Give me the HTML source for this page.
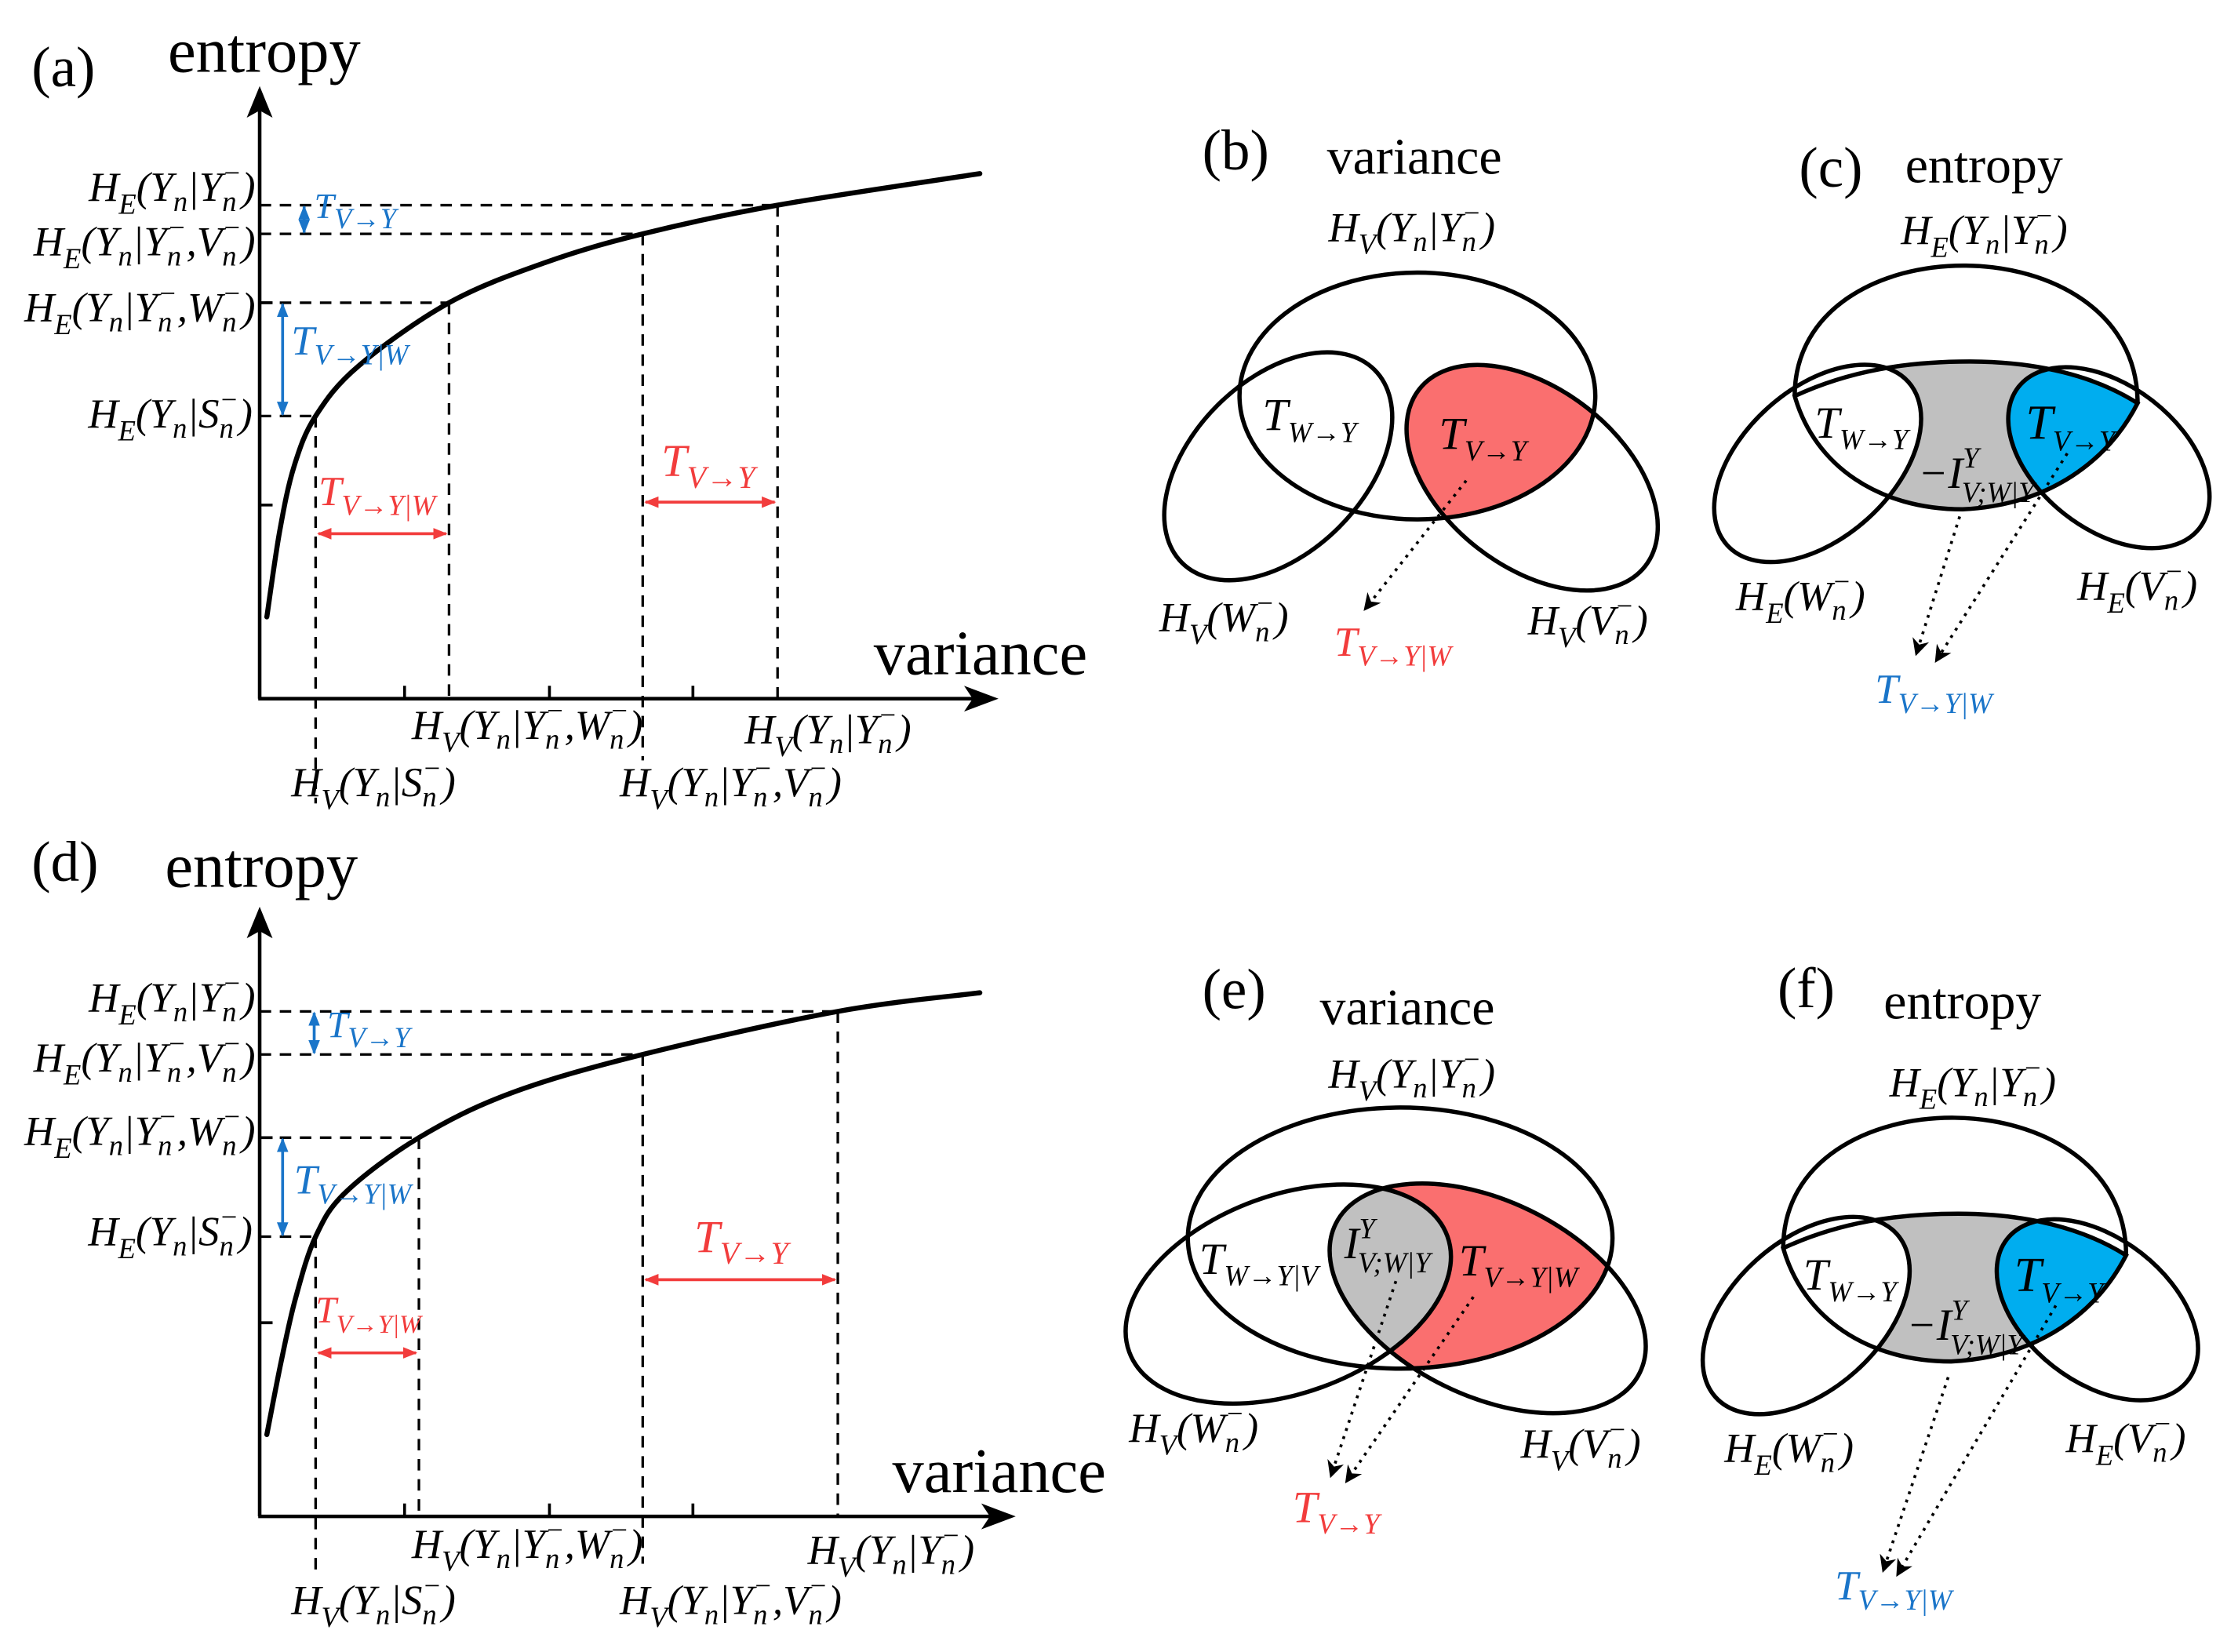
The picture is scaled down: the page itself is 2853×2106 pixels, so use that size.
<!DOCTYPE html>
<html><head><meta charset="utf-8"><style>
html,body{margin:0;padding:0;background:#fff}
svg{display:block}
.t{font-family:"Liberation Serif",serif;font-style:italic;font-size:29px;fill:#000}
.sb{font-size:20px}
.w{font-family:"Liberation Serif",serif;font-size:44px;fill:#000}
.pl{font-family:"Liberation Serif",serif;font-size:40px;fill:#000}
.blue{fill:#1a75c9}.red{fill:#f23c3c}
.el{fill:none;stroke:#000;stroke-width:3}
</style></head><body>
<svg id="fig" width="2853" height="2106" viewBox="0 0 1560 1151.5" xmlns="http://www.w3.org/2000/svg">
<defs>
<marker id="ab" viewBox="0 0 10 10" refX="9" refY="5" markerWidth="5" markerHeight="5" orient="auto-start-reverse"><path d="M0,1L10,5L0,9z" fill="#1a75c9"/></marker>
<marker id="ar" viewBox="0 0 10 10" refX="9" refY="5" markerWidth="5" markerHeight="5" orient="auto-start-reverse"><path d="M0,1L10,5L0,9z" fill="#f23c3c"/></marker>
<marker id="ad" viewBox="0 0 10 10" refX="8" refY="5" markerWidth="6" markerHeight="6" orient="auto"><path d="M0,0L10,5L0,10L3,5z" fill="#000"/></marker>
<clipPath id="bTop"><ellipse cx="988" cy="276" rx="124" ry="86"/></clipPath>
<clipPath id="eTop"><ellipse cx="976" cy="863" rx="148" ry="91"/></clipPath>
<clipPath id="eLeft"><path d="M1008.9,861.6 A118,69 -20 1 0 787.1,942.4 A118,69 -20 1 0 1008.9,861.6 Z"/></clipPath>
<clipPath id="cMid"><path d="M1251,276 C1290,258 1330,252 1373,252 C1420,252 1460,262 1490,281 C1470,320 1430,352 1368,355 C1310,355 1265,325 1251,276 Z"/></clipPath>
</defs>

<text class="pl" x="22" y="60">(a)</text>
<text class="w" x="117" y="50">entropy</text>
<text class="w" x="609" y="470">variance</text>
<text class="pl" x="22" y="614">(d)</text>
<text class="w" x="115" y="618">entropy</text>
<text class="w" x="622" y="1040">variance</text>

<g id="pa"></g>
<g id="pd"></g>

<text class="t" x="178" y="140" text-anchor="end">H<tspan class="sb" dy="9">E</tspan><tspan dy="-9">(Y</tspan><tspan class="sb" dy="7">n</tspan><tspan dy="-7">|Y</tspan><tspan class="sb" dy="7">n</tspan><tspan class="sb" dx="-10" dy="-20">−</tspan><tspan dy="13">)</tspan></text>
<text class="t" x="178" y="178" text-anchor="end">H<tspan class="sb" dy="9">E</tspan><tspan dy="-9">(Y</tspan><tspan class="sb" dy="7">n</tspan><tspan dy="-7">|Y</tspan><tspan class="sb" dy="7">n</tspan><tspan class="sb" dx="-10" dy="-20">−</tspan><tspan dy="13">,V</tspan><tspan class="sb" dy="7">n</tspan><tspan class="sb" dx="-10" dy="-20">−</tspan><tspan dy="13">)</tspan></text>
<text class="t" x="178" y="224" text-anchor="end">H<tspan class="sb" dy="9">E</tspan><tspan dy="-9">(Y</tspan><tspan class="sb" dy="7">n</tspan><tspan dy="-7">|Y</tspan><tspan class="sb" dy="7">n</tspan><tspan class="sb" dx="-10" dy="-20">−</tspan><tspan dy="13">,W</tspan><tspan class="sb" dy="7">n</tspan><tspan class="sb" dx="-10" dy="-20">−</tspan><tspan dy="13">)</tspan></text>
<text class="t" x="176" y="298" text-anchor="end">H<tspan class="sb" dy="9">E</tspan><tspan dy="-9">(Y</tspan><tspan class="sb" dy="7">n</tspan><tspan dy="-7">|S</tspan><tspan class="sb" dy="7">n</tspan><tspan class="sb" dx="-10" dy="-20">−</tspan><tspan dy="13">)</tspan></text>
<text class="t" x="287" y="515">H<tspan class="sb" dy="9">V</tspan><tspan dy="-9">(Y</tspan><tspan class="sb" dy="7">n</tspan><tspan dy="-7">|Y</tspan><tspan class="sb" dy="7">n</tspan><tspan class="sb" dx="-10" dy="-20">−</tspan><tspan dy="13">,W</tspan><tspan class="sb" dy="7">n</tspan><tspan class="sb" dx="-10" dy="-20">−</tspan><tspan dy="13">)</tspan></text>
<text class="t" x="203" y="555">H<tspan class="sb" dy="9">V</tspan><tspan dy="-9">(Y</tspan><tspan class="sb" dy="7">n</tspan><tspan dy="-7">|S</tspan><tspan class="sb" dy="7">n</tspan><tspan class="sb" dx="-10" dy="-20">−</tspan><tspan dy="13">)</tspan></text>
<text class="t" x="432" y="555">H<tspan class="sb" dy="9">V</tspan><tspan dy="-9">(Y</tspan><tspan class="sb" dy="7">n</tspan><tspan dy="-7">|Y</tspan><tspan class="sb" dy="7">n</tspan><tspan class="sb" dx="-10" dy="-20">−</tspan><tspan dy="13">,V</tspan><tspan class="sb" dy="7">n</tspan><tspan class="sb" dx="-10" dy="-20">−</tspan><tspan dy="13">)</tspan></text>
<text class="t" x="519" y="518">H<tspan class="sb" dy="9">V</tspan><tspan dy="-9">(Y</tspan><tspan class="sb" dy="7">n</tspan><tspan dy="-7">|Y</tspan><tspan class="sb" dy="7">n</tspan><tspan class="sb" dx="-10" dy="-20">−</tspan><tspan dy="13">)</tspan></text>
<text class="t blue" x="219" y="152" style="font-size:25px">T<tspan class="sb" dy="7">V→Y</tspan></text>
<text class="t blue" x="203" y="247">T<tspan class="sb" dy="7">V→Y|W</tspan></text>
<text class="t red" x="222" y="352">T<tspan class="sb" dy="7">V→Y|W</tspan></text>
<text class="t red" x="461" y="332" style="font-size:32px">T<tspan class="sb" dy="8" style="font-size:22px">V→Y</tspan></text>

<text class="t" x="178" y="705" text-anchor="end">H<tspan class="sb" dy="9">E</tspan><tspan dy="-9">(Y</tspan><tspan class="sb" dy="7">n</tspan><tspan dy="-7">|Y</tspan><tspan class="sb" dy="7">n</tspan><tspan class="sb" dx="-10" dy="-20">−</tspan><tspan dy="13">)</tspan></text>
<text class="t" x="178" y="747" text-anchor="end">H<tspan class="sb" dy="9">E</tspan><tspan dy="-9">(Y</tspan><tspan class="sb" dy="7">n</tspan><tspan dy="-7">|Y</tspan><tspan class="sb" dy="7">n</tspan><tspan class="sb" dx="-10" dy="-20">−</tspan><tspan dy="13">,V</tspan><tspan class="sb" dy="7">n</tspan><tspan class="sb" dx="-10" dy="-20">−</tspan><tspan dy="13">)</tspan></text>
<text class="t" x="178" y="798" text-anchor="end">H<tspan class="sb" dy="9">E</tspan><tspan dy="-9">(Y</tspan><tspan class="sb" dy="7">n</tspan><tspan dy="-7">|Y</tspan><tspan class="sb" dy="7">n</tspan><tspan class="sb" dx="-10" dy="-20">−</tspan><tspan dy="13">,W</tspan><tspan class="sb" dy="7">n</tspan><tspan class="sb" dx="-10" dy="-20">−</tspan><tspan dy="13">)</tspan></text>
<text class="t" x="176" y="868" text-anchor="end">H<tspan class="sb" dy="9">E</tspan><tspan dy="-9">(Y</tspan><tspan class="sb" dy="7">n</tspan><tspan dy="-7">|S</tspan><tspan class="sb" dy="7">n</tspan><tspan class="sb" dx="-10" dy="-20">−</tspan><tspan dy="13">)</tspan></text>
<text class="t" x="287" y="1086">H<tspan class="sb" dy="9">V</tspan><tspan dy="-9">(Y</tspan><tspan class="sb" dy="7">n</tspan><tspan dy="-7">|Y</tspan><tspan class="sb" dy="7">n</tspan><tspan class="sb" dx="-10" dy="-20">−</tspan><tspan dy="13">,W</tspan><tspan class="sb" dy="7">n</tspan><tspan class="sb" dx="-10" dy="-20">−</tspan><tspan dy="13">)</tspan></text>
<text class="t" x="203" y="1125">H<tspan class="sb" dy="9">V</tspan><tspan dy="-9">(Y</tspan><tspan class="sb" dy="7">n</tspan><tspan dy="-7">|S</tspan><tspan class="sb" dy="7">n</tspan><tspan class="sb" dx="-10" dy="-20">−</tspan><tspan dy="13">)</tspan></text>
<text class="t" x="432" y="1125">H<tspan class="sb" dy="9">V</tspan><tspan dy="-9">(Y</tspan><tspan class="sb" dy="7">n</tspan><tspan dy="-7">|Y</tspan><tspan class="sb" dy="7">n</tspan><tspan class="sb" dx="-10" dy="-20">−</tspan><tspan dy="13">,V</tspan><tspan class="sb" dy="7">n</tspan><tspan class="sb" dx="-10" dy="-20">−</tspan><tspan dy="13">)</tspan></text>
<text class="t" x="563" y="1090">H<tspan class="sb" dy="9">V</tspan><tspan dy="-9">(Y</tspan><tspan class="sb" dy="7">n</tspan><tspan dy="-7">|Y</tspan><tspan class="sb" dy="7">n</tspan><tspan class="sb" dx="-10" dy="-20">−</tspan><tspan dy="13">)</tspan></text>
<text class="t blue" x="228" y="723" style="font-size:26px">T<tspan class="sb" dy="7">V→Y</tspan></text>
<text class="t blue" x="205" y="832">T<tspan class="sb" dy="7">V→Y|W</tspan></text>
<text class="t red" x="220" y="922" style="font-size:26px">T<tspan class="sb" dy="7" style="font-size:18px">V→Y|W</tspan></text>
<text class="t red" x="484" y="873" style="font-size:32px">T<tspan class="sb" dy="8" style="font-size:22px">V→Y</tspan></text>

<!-- panel b -->
<g>
<text class="pl" x="838" y="118">(b)</text>
<text class="w" x="925" y="121" style="font-size:36px">variance</text>
<g clip-path="url(#bTop)"><ellipse cx="0" cy="0" rx="100" ry="62" transform="translate(1068,333) rotate(38)" fill="#fa6f6f"/></g>
<ellipse class="el" cx="988" cy="276" rx="124" ry="86"/>
<ellipse class="el" cx="0" cy="0" rx="95" ry="60" transform="translate(891,325) rotate(-45)"/>
<ellipse class="el" cx="0" cy="0" rx="100" ry="62" transform="translate(1068,333) rotate(38)"/>
<text class="t" x="926" y="168">H<tspan class="sb" dy="9">V</tspan><tspan dy="-9">(Y</tspan><tspan class="sb" dy="7">n</tspan><tspan dy="-7">|Y</tspan><tspan class="sb" dy="7">n</tspan><tspan class="sb" dx="-10" dy="-20">−</tspan><tspan dy="13">)</tspan></text>
<text class="t" x="880" y="300" style="font-size:32px">T<tspan class="sb" dy="8">W→Y</tspan></text>
<text class="t" x="1003" y="313" style="font-size:32px">T<tspan class="sb" dy="8">V→Y</tspan></text>
<text class="t" x="808" y="440">H<tspan class="sb" dy="9">V</tspan><tspan dy="-9">(W</tspan><tspan class="sb" dy="7">n</tspan><tspan class="sb" dx="-10" dy="-20">−</tspan><tspan dy="13">)</tspan></text>
<text class="t" x="1065" y="442">H<tspan class="sb" dy="9">V</tspan><tspan dy="-9">(V</tspan><tspan class="sb" dy="7">n</tspan><tspan class="sb" dx="-10" dy="-20">−</tspan><tspan dy="13">)</tspan></text>
<path d="M1022,335 L952,424" stroke="#000" stroke-width="2" stroke-dasharray="2 4" fill="none" marker-end="url(#ad)"/>
<text class="t red" x="930" y="457">T<tspan class="sb" dy="7">V→Y|W</tspan></text>
</g>

<!-- panel e -->
<g>
<text class="pl" x="838" y="703">(e)</text>
<text class="w" x="920" y="714" style="font-size:36px">variance</text>
<g clip-path="url(#eTop)"><ellipse cx="0" cy="0" rx="118" ry="68" transform="translate(1037,905) rotate(26)" fill="#fa6f6f"/></g>
<g clip-path="url(#eLeft)"><ellipse cx="0" cy="0" rx="118" ry="68" transform="translate(1037,905) rotate(26)" fill="#c0c0c0"/></g>
<ellipse class="el" cx="976" cy="863" rx="148" ry="91"/>
<ellipse class="el" cx="0" cy="0" rx="118" ry="69" transform="translate(898,902) rotate(-20)"/>
<ellipse class="el" cx="0" cy="0" rx="118" ry="68" transform="translate(1037,905) rotate(26)"/>
<text class="t" x="926" y="758">H<tspan class="sb" dy="9">V</tspan><tspan dy="-9">(Y</tspan><tspan class="sb" dy="7">n</tspan><tspan dy="-7">|Y</tspan><tspan class="sb" dy="7">n</tspan><tspan class="sb" dx="-10" dy="-20">−</tspan><tspan dy="13">)</tspan></text>
<text class="t" x="836" y="888" style="font-size:31px">T<tspan class="sb" dy="8">W→Y|V</tspan></text>
<text class="t" x="937" y="877" style="font-size:31px">I<tspan class="sb" dy="-14">Y</tspan><tspan class="sb" dx="-12" dy="24">V;W|Y</tspan></text>
<text class="t" x="1017" y="889" style="font-size:31px">T<tspan class="sb" dy="8">V→Y|W</tspan></text>
<text class="t" x="787" y="1005">H<tspan class="sb" dy="9">V</tspan><tspan dy="-9">(W</tspan><tspan class="sb" dy="7">n</tspan><tspan class="sb" dx="-10" dy="-20">−</tspan><tspan dy="13">)</tspan></text>
<text class="t" x="1060" y="1016">H<tspan class="sb" dy="9">V</tspan><tspan dy="-9">(V</tspan><tspan class="sb" dy="7">n</tspan><tspan class="sb" dx="-10" dy="-20">−</tspan><tspan dy="13">)</tspan></text>
<path d="M973,893 L928,1028" stroke="#000" stroke-width="2" stroke-dasharray="2 4" fill="none" marker-end="url(#ad)"/>
<path d="M1027,904 L939,1032" stroke="#000" stroke-width="2" stroke-dasharray="2 4" fill="none" marker-end="url(#ad)"/>
<text class="t red" x="901" y="1061" style="font-size:31px">T<tspan class="sb" dy="8">V→Y</tspan></text>
</g>

<!-- panel c -->
<g>
<text class="pl" x="1254" y="130">(c)</text>
<text class="w" x="1328" y="127" style="font-size:36px">entropy</text>
<g id="cshapes">
<path d="M1251,276 C1290,258 1330,252 1373,252 C1420,252 1460,262 1490,281 C1470,320 1430,352 1368,355 C1310,355 1265,325 1251,276 Z" fill="#c0c0c0"/>
<g clip-path="url(#cMid)"><ellipse cx="0" cy="0" rx="85" ry="52" transform="translate(1267,323) rotate(-42)" fill="#fff"/></g>
<g clip-path="url(#cMid)"><ellipse cx="0" cy="0" rx="80" ry="50" transform="translate(1470,319) rotate(38)" fill="#00adef"/></g>
<path class="el" d="M1251,276 C1251,154 1490,154 1490,281"/>
<path class="el" d="M1251,276 C1290,258 1330,252 1373,252 C1420,252 1460,262 1490,281 C1470,320 1430,352 1368,355 C1310,355 1265,325 1251,276 Z"/>
<ellipse class="el" cx="0" cy="0" rx="85" ry="52" transform="translate(1267,323) rotate(-42)"/>
<ellipse class="el" cx="0" cy="0" rx="80" ry="50" transform="translate(1470,319) rotate(38)"/>
<text class="t" x="1325" y="170">H<tspan class="sb" dy="9">E</tspan><tspan dy="-9">(Y</tspan><tspan class="sb" dy="7">n</tspan><tspan dy="-7">|Y</tspan><tspan class="sb" dy="7">n</tspan><tspan class="sb" dx="-10" dy="-20">−</tspan><tspan dy="13">)</tspan></text>
<text class="t" x="1265" y="305" style="font-size:31px">T<tspan class="sb" dy="8">W→Y</tspan></text>
<text class="t" x="1337" y="340" style="font-size:31px">−I<tspan class="sb" dy="-14">Y</tspan><tspan class="sb" dx="-12" dy="24">V;W|Y</tspan></text>
<text class="t" x="1412" y="306" style="font-size:34px">T<tspan class="sb" dy="8">V→Y</tspan></text>
<text class="t" x="1210" y="425">H<tspan class="sb" dy="9">E</tspan><tspan dy="-9">(W</tspan><tspan class="sb" dy="7">n</tspan><tspan class="sb" dx="-10" dy="-20">−</tspan><tspan dy="13">)</tspan></text>
<text class="t" x="1448" y="418">H<tspan class="sb" dy="9">E</tspan><tspan dy="-9">(V</tspan><tspan class="sb" dy="7">n</tspan><tspan class="sb" dx="-10" dy="-20">−</tspan><tspan dy="13">)</tspan></text>
</g>
<path d="M1366,360 L1336,455" stroke="#000" stroke-width="2" stroke-dasharray="2 4" fill="none" marker-end="url(#ad)"/>
<path d="M1441,316 L1350,460" stroke="#000" stroke-width="2" stroke-dasharray="2 4" fill="none" marker-end="url(#ad)"/>
<text class="t blue" x="1307" y="490">T<tspan class="sb" dy="7">V→Y|W</tspan></text>
</g>

<!-- panel f -->
<g>
<text class="pl" x="1239" y="702">(f)</text>
<text class="w" x="1313" y="710" style="font-size:36px">entropy</text>
<use href="#cshapes" transform="translate(-8,594)"/>
<path d="M1358,960 L1313,1094" stroke="#000" stroke-width="2" stroke-dasharray="2 4" fill="none" marker-end="url(#ad)"/>
<path d="M1433,910 L1323,1097" stroke="#000" stroke-width="2" stroke-dasharray="2 4" fill="none" marker-end="url(#ad)"/>
<text class="t blue" x="1279" y="1115">T<tspan class="sb" dy="7">V→Y|W</tspan></text>
</g>
</svg>
<script>
const curveVarA = [1, 2.8, 4.8, 7.8, 13.8, 26.4, 39.8, 53.4, 72.2, 100.4];
const curveEntA = [14.25, 29.25, 40.5, 49.25, 58, 69, 76, 81, 86, 91.5];
const curveVarD = [1, 3, 5, 7.8, 12, 22.2, 35, 53.4, 80.6, 100.4];
const curveEntD = [14.25, 27, 38, 48.75, 56.5, 66, 73.75, 80.5, 88, 91.25];
const keyVarA = [7.8, 26.4, 53.4, 72.2];
const keyEntA = [49.25, 69, 81, 86];
const keyVarD = [7.8, 22.2, 53.4, 80.6];
const keyEntD = [48.75, 66, 80.5, 88];
const xTickVals = [20.2, 40.4, 60.4];
const yTickValsA = [69, 33.75];
const yTickValsD = [66, 33.75];

const NS = 'http://www.w3.org/2000/svg';
function mk(parent, tag, attrs) {
  const e = document.createElementNS(NS, tag);
  for (const k in attrs) e.setAttribute(k, attrs[k]);
  parent.appendChild(e);
  return e;
}
function smooth(pts) {
  let d = 'M' + pts[0][0] + ',' + pts[0][1];
  for (let i = 0; i < pts.length - 1; i++) {
    const p0 = pts[Math.max(0, i - 1)], p1 = pts[i], p2 = pts[i + 1], p3 = pts[Math.min(pts.length - 1, i + 2)];
    const c1x = p1[0] + (p2[0] - p0[0]) / 6, c1y = p1[1] + (p2[1] - p0[1]) / 6;
    const c2x = p2[0] - (p3[0] - p1[0]) / 6, c2y = p2[1] - (p3[1] - p1[1]) / 6;
    d += ' C' + c1x + ',' + c1y + ' ' + c2x + ',' + c2y + ' ' + p2[0] + ',' + p2[1];
  }
  return d;
}
function panel(gid, oy, top, xEnd, cv, ce, kv, ke, yt, vExt, blueX, redY) {
  const g = document.getElementById(gid);
  const sx = v => 181 + v * 5;
  const sy = e => oy - e * 4;
  for (let i = 0; i < kv.length; i++) {
    const h = mk(g, 'line', {x1: 181, y1: sy(ke[i]), x2: sx(kv[i]), y2: sy(ke[i]), stroke: '#000', 'stroke-width': 1.8, 'stroke-dasharray': '8 6'});
    
    
    const v = mk(g, 'line', {x1: sx(kv[i]), y1: sy(ke[i]), x2: sx(kv[i]), y2: vExt[i], stroke: '#000', 'stroke-width': 1.8, 'stroke-dasharray': '8 6'});
    
    
  }
  const ya = mk(g, 'path', {d: 'M181,' + oy + ' L181,' + (top + 14), stroke: '#000', 'stroke-width': 2.5, fill: 'none'});
  
  
  const yh = mk(g, 'path', {d: 'M181,' + top + ' L172,' + (top + 22) + ' L181,' + (top + 17) + ' L190,' + (top + 22) + ' Z', fill: '#000'});
  
  
  const xa = mk(g, 'path', {d: 'M180,' + oy + ' L' + (xEnd - 14) + ',' + oy, stroke: '#000', 'stroke-width': 2.5, fill: 'none'});
  
  
  const xh = mk(g, 'path', {d: 'M' + xEnd + ',' + oy + ' L' + (xEnd - 24) + ',' + (oy - 9) + ' L' + (xEnd - 18) + ',' + oy + ' L' + (xEnd - 24) + ',' + (oy + 9) + ' Z', fill: '#000'});
  
  
  xTickVals.forEach(t => {
    const tk = mk(g, 'line', {x1: sx(t), y1: oy, x2: sx(t), y2: oy - 9, stroke: '#000', 'stroke-width': 2});
    
    
  });
  yt.forEach(t => {
    const tk = mk(g, 'line', {x1: 181, y1: sy(t), x2: 190, y2: sy(t), stroke: '#000', 'stroke-width': 2});
    
    
  });
  const pts = cv.map((v, i) => [sx(v), sy(ce[i])]);
  const c = mk(g, 'path', {d: smooth(pts), stroke: '#000', 'stroke-width': 3.5, fill: 'none', 'stroke-linecap': 'round'});
  
  
  const b1 = mk(g, 'line', {x1: blueX[0], y1: sy(ke[3]) + 1, x2: blueX[0], y2: sy(ke[2]) - 1, stroke: '#1a75c9', 'stroke-width': 2, 'marker-start': 'url(#ab)', 'marker-end': 'url(#ab)'});
  
  
  const b2 = mk(g, 'line', {x1: blueX[1], y1: sy(ke[1]) + 1, x2: blueX[1], y2: sy(ke[0]) - 1, stroke: '#1a75c9', 'stroke-width': 2, 'marker-start': 'url(#ab)', 'marker-end': 'url(#ab)'});
  
  
  const r1 = mk(g, 'line', {x1: sx(kv[0]) + 2, y1: redY[0], x2: sx(kv[1]) - 2, y2: redY[0], stroke: '#f23c3c', 'stroke-width': 2, 'marker-start': 'url(#ar)', 'marker-end': 'url(#ar)'});
  
  
  const r2 = mk(g, 'line', {x1: sx(kv[2]) + 2, y1: redY[1], x2: sx(kv[3]) - 2, y2: redY[1], stroke: '#f23c3c', 'stroke-width': 2, 'marker-start': 'url(#ar)', 'marker-end': 'url(#ar)'});
  
  
}
panel('pa', 487, 60, 696, curveVarA, curveEntA, keyVarA, keyEntA, yTickValsA, [560, 487, 530, 487], [212, 197], [372, 350]);
panel('pd', 1057, 632, 708, curveVarD, curveEntD, keyVarD, keyEntD, yTickValsD, [1100, 1057, 1090, 1057], [219, 197], [943, 892]);
</script>
</body></html>
